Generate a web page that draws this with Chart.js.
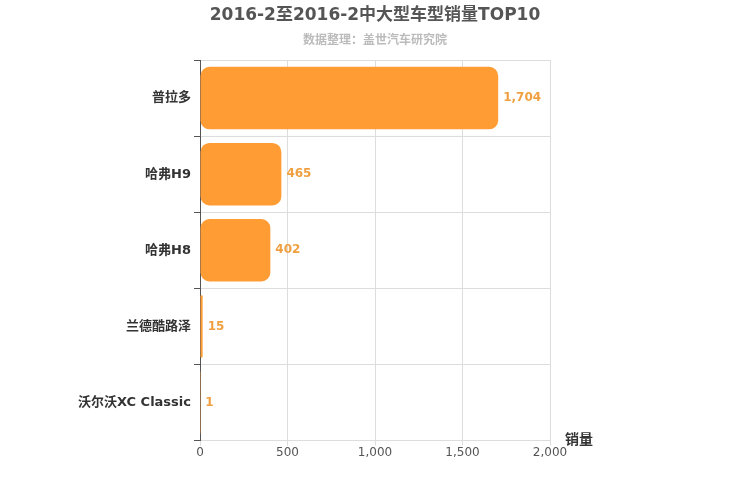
<!DOCTYPE html>
<html><head><meta charset="utf-8">
<script src="https://cdn.jsdelivr.net/npm/chart.js@4"></script>
<style>body{margin:0;background:#fff}#w{width:750px;height:500px}</style>
</head><body><div id="w"><canvas id="c"></canvas></div>
<script>
const categories = ["普拉多","哈弗H9","哈弗H8","兰德酷路泽","沃尔沃XC Classic"];
const sales = [1704,465,402,15,1];
const xTicks = [0,500,1000,1500,2000];
const F = "'DejaVu Sans','Noto Sans CJK SC',sans-serif";
const labelPlugin = {
  id:'lbl',
  afterDatasetsDraw(chart){
    const ctx=chart.ctx, meta=chart.getDatasetMeta(0);
    ctx.save();
    ctx.font="bold 12px "+F; ctx.fillStyle="#f0a040"; ctx.textBaseline="middle";
    meta.data.forEach((b,i)=>{ctx.fillText(sales[i].toLocaleString('en-US'), b.x+5, b.y);});
    ctx.font="bold 14px "+F; ctx.fillStyle="#333";
    ctx.fillText("销量", chart.chartArea.right+15, chart.chartArea.bottom);
    ctx.textAlign="center";
    ctx.font="bold 17px "+F; ctx.fillStyle="#555";
    ctx.fillText("2016-2至2016-2中大型车型销量TOP10", 375, 16);
    ctx.font="bold 12px "+F; ctx.fillStyle="#bbb";
    ctx.fillText("数据整理：盖世汽车研究院", 375, 41);
    ctx.restore();
  }
};
new Chart(document.getElementById('c'),{
  type:'bar',
  data:{labels:categories,datasets:[{data:sales,backgroundColor:'#ff9c34',borderRadius:9,borderSkipped:false,barPercentage:0.82,categoryPercentage:1}]},
  options:{
    indexAxis:'y',responsive:true,maintainAspectRatio:false,animation:false,
    layout:{padding:{right:200,top:60,bottom:40,left:0}},
    plugins:{legend:{display:false},tooltip:{enabled:false},title:{display:false}},
    scales:{
      x:{min:0,max:2000,afterBuildTicks(s){s.ticks=xTicks.map(v=>({value:v}));},
        grid:{color:'#ddd',drawTicks:true,tickLength:5},border:{color:'#ddd'},
        ticks:{color:'#555',font:{family:F,size:12},padding:0,callback:v=>v.toLocaleString('en-US')}},
      y:{afterFit(s){s.width=200;},grid:{color:'#ddd',offset:true,tickLength:6,tickColor:'#555'},border:{color:'#555'},
        ticks:{color:'#333',font:{family:F,size:13,weight:'bold'}}}
    }
  },
  plugins:[labelPlugin]
});
</script></body></html>
